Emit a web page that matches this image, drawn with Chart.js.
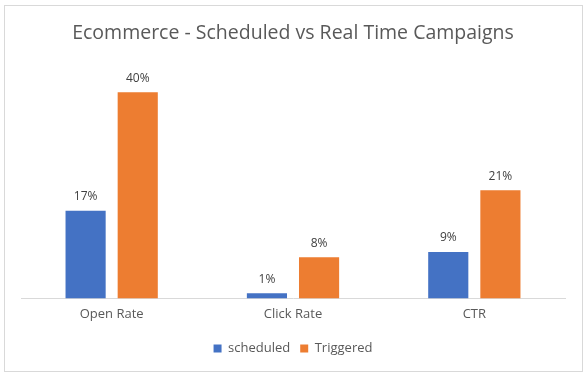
<!DOCTYPE html>
<html>
<head>
<meta charset="utf-8">
<script src="https://cdn.jsdelivr.net/npm/chart.js@4.4.0/dist/chart.umd.min.js"></script>
<style>
  html, body { margin: 0; padding: 0; background: #fff; }
  #wrap { position: absolute; left: 0; top: 0; width: 588px; height: 374px; }
</style>
</head>
<body>
<div id="wrap"><canvas id="campaignChart"></canvas></div>
<script>
// data
var categories = ['Open Rate', 'Click Rate', 'CTR'];
var scheduledValues = [17, 1, 9];
var triggeredValues = [40, 8, 21];
var seriesNames = ['scheduled', 'Triggered'];

// white background + thin grey frame like the excel chart box
var frame = {
    id: 'frame',
    beforeDraw: function (chart) {
        var c = chart.ctx;
        c.save();
        c.fillStyle = '#ffffff';
        c.fillRect(0, 0, chart.width, chart.height);
        c.strokeStyle = '#d9d9d9';
        c.lineWidth = 1;
        c.strokeRect(4.5, 5.5, 578, 366);
        c.restore();
    }
};

// percent labels on top of each bar
var barLabels = {
    id: 'barLabels',
    afterDatasetsDraw: function (chart) {
        var c = chart.ctx;
        c.save();
        c.font = '12px "Open Sans"';
        c.fillStyle = '#404040';
        c.textAlign = 'center';
        c.textBaseline = 'bottom';
        chart.data.datasets.forEach(function (ds, i) {
            chart.getDatasetMeta(i).data.forEach(function (bar, j) {
                c.fillText(Math.round(ds.data[j]) + '%', bar.x, bar.y - 8);
            });
        });
        c.restore();
    }
};

var ctx = document.getElementById('campaignChart').getContext('2d');
var myChart = new Chart(ctx, {
    type: 'bar',
    data: {
        labels: categories,
        datasets: [{
            label: seriesNames[0],
            data: scheduledValues,
            backgroundColor: '#4472c4',
            barPercentage: 0.77,
            categoryPercentage: 0.575
        }, {
            label: seriesNames[1],
            data: triggeredValues,
            backgroundColor: '#ed7d31',
            barPercentage: 0.77,
            categoryPercentage: 0.575
        }]
    },
    options: {
        responsive: true,
        maintainAspectRatio: false,
        animation: false,
        layout: {
            padding: { left: 21, right: 23, top: 0, bottom: 9 }
        },
        scales: {
            x: {
                grid: { display: false },
                border: { display: true, color: '#d9d9d9', width: 1 },
                ticks: {
                    color: '#595959',
                    font: { family: 'Open Sans', size: 13 },
                    padding: 0
                },
                afterFit: function (axis) {
                    axis.height += 10;
                }
            },
            y: {
                display: false,
                min: 0,
                max: 45
            }
        },
        plugins: {
            title: {
                display: true,
                text: 'Ecommerce - Scheduled vs Real Time Campaigns',
                color: '#595959',
                font: { family: 'Open Sans', size: 19.5, weight: 'normal' },
                padding: { top: 22, bottom: 21 }
            },
            legend: {
                position: 'bottom',
                labels: {
                    color: '#595959',
                    font: { family: 'Open Sans', size: 13 },
                    boxWidth: 8,
                    boxHeight: 8,
                    padding: 10
                }
            },
            tooltip: { enabled: false }
        }
    },
    plugins: [frame, barLabels]
});
</script>
</body>
</html>
